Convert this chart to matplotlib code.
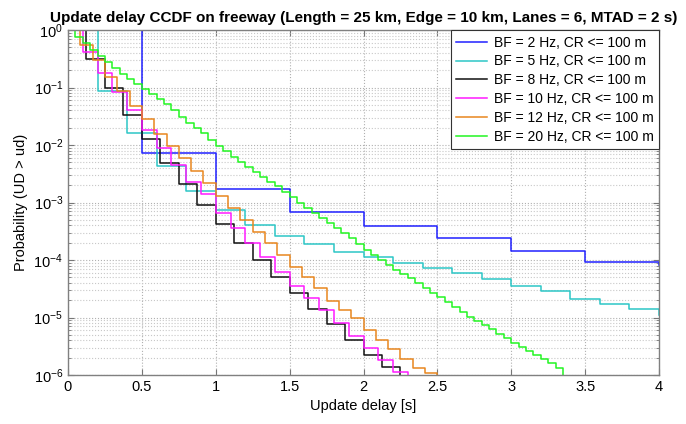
import matplotlib
matplotlib.use("Agg")
import matplotlib.pyplot as plt
import numpy as np
from matplotlib.ticker import LogLocator, NullFormatter, MultipleLocator

plt.rcParams['font.family'] = ['Liberation Sans', 'DejaVu Sans']
plt.rcParams['mathtext.fontset'] = 'custom'
plt.rcParams['mathtext.rm'] = 'Liberation Sans'
plt.rcParams['mathtext.it'] = 'Liberation Sans:italic'
plt.rcParams['mathtext.bf'] = 'Liberation Sans:bold'

# beacon frequencies (Hz) and CCDF levels, one per interval of 1/BF seconds
bf_2hz = [1, 7.2e-3, 1.7e-3, 6.8e-4, 3.9e-4, 2.4e-4, 1.44e-4, 9.3e-5, 8.2e-5]
bf_5hz = [1, 0.088, 0.0164, 4.4e-3, 1.57e-3, 7.3e-4, 4.07e-4, 2.6e-4, 1.9e-4, 1.39e-4,
          1.12e-4, 8.8e-5, 7.2e-5, 5.9e-5, 4.7e-5, 3.6e-5, 2.86e-5, 2.1e-5, 1.74e-5, 1.39e-5,
          1.1e-5]
bf_8hz = [1, 0.31, 0.097, 0.033, 0.0127, 4.9e-3, 2.1e-3, 9.2e-4, 4.2e-4, 2.0e-4,
          1.0e-4, 5.0e-5, 2.7e-5, 1.39e-5, 7.7e-6, 4.1e-6, 2.2e-6, 1.4e-6, 0]
bf_10hz = [1, 0.42, 0.18, 0.085, 0.04, 0.018, 9e-3, 4.5e-3, 2.3e-3, 1.39e-3,
           6.65e-4, 3.55e-4, 1.95e-4, 1.14e-4, 6.3e-5, 3.55e-5, 2.15e-5, 1.35e-5, 8.1e-6, 4.8e-6,
           2.9e-6, 1.86e-6, 1.15e-6, 0]
bf_12hz = [1, 0.55, 0.30, 0.155, 0.088, 0.048, 0.028, 0.0155, 9.6e-3, 5.9e-3,
           3.6e-3, 2.15e-3, 1.31e-3, 7.9e-4, 5.0e-4, 3.1e-4, 1.95e-4, 1.22e-4, 7.6e-5, 5.1e-5,
           3.2e-5, 1.95e-5, 1.35e-5, 9.7e-6, 6.0e-6, 4.1e-6, 2.8e-6, 1.87e-6, 1.3e-6, 1.1e-6, 0]
bf_20hz = [1, 0.755, 0.594, 0.449, 0.353, 0.278, 0.218, 0.172, 0.141, 0.115,
           0.094, 0.077, 0.063, 0.052, 0.041, 0.031, 0.024, 0.0198, 0.0162, 0.0122,
           0.0096, 0.0079, 0.0062, 0.0051, 0.0041, 0.0034, 0.0028, 0.0023, 0.0019, 0.0015,
           1.25e-3, 9.8e-4, 8.0e-4, 6.6e-4, 5.4e-4, 4.4e-4, 3.6e-4, 3.0e-4, 2.4e-4, 1.9e-4,
           1.5e-4, 1.22e-4, 1.0e-4, 8.2e-5, 6.7e-5, 5.7e-5, 4.9e-5, 4.0e-5, 3.3e-5, 2.7e-5,
           2.3e-5, 1.86e-5, 1.52e-5, 1.25e-5, 1.02e-5, 8.7e-6, 7.4e-6, 6.3e-6, 5.2e-6, 4.4e-6,
           3.6e-6, 3.1e-6, 2.6e-6, 2.2e-6, 1.9e-6, 1.6e-6, 1.3e-6, 0]

freqs = [2, 5, 8, 10, 12, 20]
series = [bf_2hz, bf_5hz, bf_8hz, bf_10hz, bf_12hz, bf_20hz]
labels = ['BF = %d Hz, CR <= 100 m' % f for f in freqs]
colors = ['#2020ff', '#2cc6c6', '#111111', '#ff1aff', '#e8861e', '#22f522']

fig = plt.figure(figsize=(6.86, 4.24), dpi=100)
ax = fig.add_axes([68/686, 49/424, 591/686, 345/424])

for f, vals, lab, c in zip(freqs, series, labels, colors):
    t = np.arange(len(vals)) / f
    ax.plot(t, vals, drawstyle='steps-post', color=c, lw=1.1, label=lab)

ax.set_yscale('log', nonpositive='clip')
ax.set_xlim(0, 4)
ax.set_ylim(1e-6, 1)
ax.xaxis.set_major_locator(MultipleLocator(0.5))
ax.set_xticks(np.arange(0, 4.01, 0.5))
ax.set_xticklabels(['0', '0.5', '1', '1.5', '2', '2.5', '3', '3.5', '4'])
ax.yaxis.set_major_locator(LogLocator(base=10, numticks=10))
ax.yaxis.set_minor_locator(LogLocator(base=10, subs=np.arange(2, 10), numticks=20))
ax.yaxis.set_minor_formatter(NullFormatter())

ax.grid(True, which='major', ls=':', color='#b0b0b0', lw=0.8)
ax.grid(True, which='minor', axis='y', ls=':', color='#c8c8c8', lw=0.8)
ax.tick_params(which='both', direction='in', top=True, right=True, labelsize=10.5,
               color='#777777')
ax.tick_params(which='major', length=4)
ax.tick_params(which='minor', length=2)
for s in ax.spines.values():
    s.set_color('#808080')
    s.set_linewidth(1.0)

ax.set_xlabel('Update delay [s]', fontsize=10.5)
ax.set_ylabel('Probability (UD > ud)', fontsize=10.5)
ax.set_title('Update delay CCDF on freeway (Length = 25 km, Edge = 10 km, Lanes = 6, MTAD = 2 s)',
             fontsize=11, fontweight='bold', pad=6)

leg = ax.legend(loc='upper right', fontsize=10, fancybox=False, framealpha=1,
                edgecolor='#333333', borderaxespad=0, handlelength=2.2,
                labelspacing=0.35, borderpad=0.4, handletextpad=0.5)
leg.get_frame().set_linewidth(0.8)

fig.savefig('out.png', dpi=100)
